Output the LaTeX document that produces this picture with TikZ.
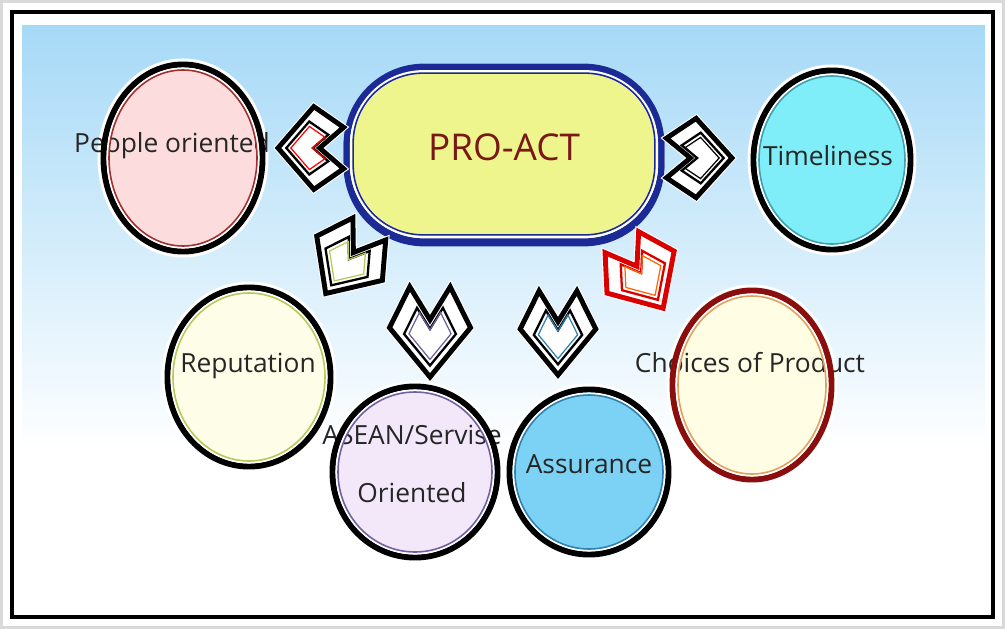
\documentclass[tikz,border=0pt]{standalone}
\usepackage{fontspec}
\setmainfont{Open Sans}
\usetikzlibrary{shapes.geometric}

\definecolor{skytop}{HTML}{A6D9F7}
\definecolor{proyellow}{HTML}{EEF58C}
\definecolor{problue}{HTML}{1C2A96}
\definecolor{protext}{HTML}{7A1818}
\definecolor{peofill}{HTML}{FCDCDC}
\definecolor{peoline}{HTML}{A03030}
\definecolor{timfill}{HTML}{80EEF8}
\definecolor{timline}{HTML}{40A0B0}
\definecolor{repfill}{HTML}{FEFEE8}
\definecolor{repline}{HTML}{B8C858}
\definecolor{asefill}{HTML}{F2E8FA}
\definecolor{aseline}{HTML}{7060A0}
\definecolor{assfill}{HTML}{7CD2F4}
\definecolor{assline}{HTML}{3080B0}
\definecolor{chofill}{HTML}{FFFDE4}
\definecolor{chored}{HTML}{8A0E0E}
\definecolor{choline}{HTML}{E0A060}
\definecolor{txt}{HTML}{262626}

\tikzset{
  bubble/.style={ellipse, inner sep=0pt, draw=white, line width=4pt},
  outring/.style={line width=3.4pt},
  gapring/.style={white, line width=1.2pt},
  inring/.style={line width=0.9pt},
  lbl/.style={text=txt, font=\fontsize{15}{18}\selectfont, align=center},
}

\begin{document}
\begin{tikzpicture}[x=0.02cm, y=-0.02cm]
\useasboundingbox (0,0) rectangle (1005,629);
% background and frame
\fill[white] (0,0) rectangle (1005,629);
\draw[black!15, line width=3pt] (0,0) rectangle (1005,629);
\shade[top color=skytop, bottom color=white] (22,25) rectangle (985,450);
\draw[line width=2.6pt] (12,12) rectangle (993,617);

% bubbles: fill first
\foreach \n/\cx/\cy/\rx/\ry/\fc in {rep/249/377/84/92/repfill, cho/752/385/82/97/chofill,
    peo/183/158/82/96/peofill, tim/832/160/81/92/timfill,
    ase/415/472/85/88/asefill, ass/589/472/82/85/assfill}
  \node[bubble, fill=\fc, minimum width=2*\rx*0.02cm, minimum height=2*\ry*0.02cm] (\n) at (\cx,\cy) {};

% labels
\node[lbl] (peotxt) at ([shift={(-11,-12)}]peo.center) {People oriented};
\node[lbl] (timtxt) at ([shift={(-4,-4)}]tim.center) {Timeliness};
\node[lbl] (reptxt) at ([shift={(-1,-11)}]rep.center) {Reputation};
\node[lbl] (asetxt) at ([shift={(-3,-8)}]ase.center) {ASEAN/Servise\\[15pt]Oriented};
\node[lbl] (asstxt) at ([shift={(0,-8)}]ass.center) {Assurance};
\node[lbl] (chotxt) at ([shift={(-2,-22)}]cho.center) {Choices of Product};

% bubble borders on top of the labels
\foreach \n/\rx/\ry/\oc/\ic in {rep/84/92/black/repline, cho/82/97/chored/choline,
    peo/82/96/black/peoline, tim/81/92/black/timline,
    ase/85/88/black/aseline, ass/82/85/black/assline} {
  \draw[outring, draw=\oc] (\n.center) ellipse [x radius=\rx-2.5, y radius=\ry-2.5];
  \draw[gapring] (\n.center) ellipse [x radius=\rx-6.5, y radius=\ry-6.5];
  \draw[inring, draw=\ic] (\n.center) ellipse [x radius=\rx-8, y radius=\ry-8];
}

% centre box
\node[rectangle, rounded corners=1.6cm, fill=proyellow, draw=white, line width=5pt,
      minimum width=6.24cm, minimum height=3.44cm] (pro) at (504,154) {};
\draw[problue, line width=3.4pt, rounded corners=1.55cm]
  ([shift={(3,5)}]pro.north west) rectangle ([shift={(-3,-1)}]pro.south east);
\draw[problue, line width=3.4pt, rounded corners=1.55cm]
  ([shift={(3,3)}]pro.north west) rectangle ([shift={(-3,-3)}]pro.south east);
\draw[white, line width=1.2pt, rounded corners=1.45cm]
  ([shift={(7.5,7.5)}]pro.north west) rectangle ([shift={(-7.5,-7.5)}]pro.south east);
\draw[problue, line width=0.9pt, rounded corners=1.4cm]
  ([shift={(9.5,9.5)}]pro.north west) rectangle ([shift={(-9.5,-9.5)}]pro.south east);
\node[text=protext, font=\fontsize{21}{24}\selectfont] (protxt) at ([shift={(0,-7)}]pro.center) {PRO-ACT};

% block arrows
\foreach \cx/\cy/\a/\l/\w/\oc/\ic in {310/148/180/32/46/black/red, 700/158/0/32/44/black/black,
    347/262/124/38/44/black/repline, 430/333/90/44/45/black/aseline,
    558/334/90/41/42/black/assline, 643/276/58/38/44/red!85!black/orange!80!red} {
  \begin{scope}[shift={(\cx,\cy)}, rotate=-\a, xscale=\l, yscale=\w]
    \filldraw[white, line width=4pt] (1,0) -- (-0.12,0.9) -- (-1.05,0.45) -- (-0.3,0)
      -- (-1.05,-0.45) -- (-0.12,-0.9) -- cycle;
    \draw[draw=\oc, line width=2.8pt, line join=miter] (1,0) -- (-0.12,0.9) -- (-1.05,0.45)
      -- (-0.3,0) -- (-1.05,-0.45) -- (-0.12,-0.9) -- cycle;
    \begin{scope}[shift={(0.1,0)}, scale=0.64]
      \draw[draw=\oc, line width=1.3pt] (1,0) -- (-0.12,0.9) -- (-1.05,0.45) -- (-0.3,0)
        -- (-1.05,-0.45) -- (-0.12,-0.9) -- cycle;
    \end{scope}
    \begin{scope}[shift={(0.08,0)}, scale=0.52]
      \draw[draw=\ic, line width=0.7pt] (1,0) -- (-0.12,0.9) -- (-1.05,0.45) -- (-0.3,0)
        -- (-1.05,-0.45) -- (-0.12,-0.9) -- cycle;
    \end{scope}
  \end{scope}
}
\end{tikzpicture}
\end{document}
